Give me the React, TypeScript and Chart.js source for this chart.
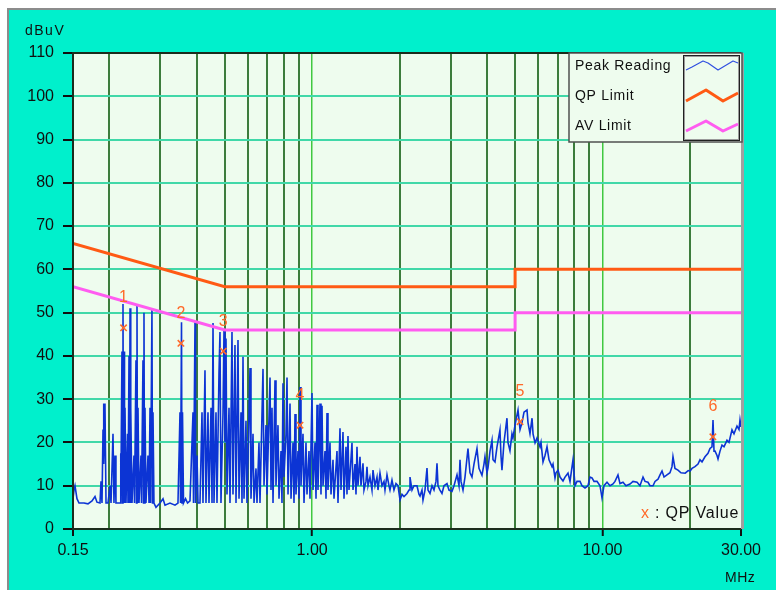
import React, { useEffect, useRef } from "react";
import { Chart, registerables } from "chart.js";

Chart.register(...registerables);

// Peak Reading trace: [frequency MHz, level dBuV]
const peakReading: [number, number][] = [
  [0.15, 7], [0.1512, 9], [0.1524, 10], [0.1548, 7], [0.1573, 6], [0.1637, 6], [0.1689, 5.8],
  [0.1744, 6.5], [0.1786, 7.5], [0.1814, 6.2], [0.1858, 6], [0.1873, 11], [0.1888, 6],
  [0.1903, 23], [0.191, 29], [0.1918, 15], [0.1933, 29], [0.1949, 6], [0.198, 6],
  [0.2012, 10], [0.2028, 6], [0.206, 22], [0.2076, 6], [0.2093, 17], [0.2109, 6], [0.2143, 6],
  [0.2178, 6], [0.2187, 17.5], [0.2195, 6], [0.2212, 41], [0.2221, 6], [0.223, 52], [0.2239, 6],
  [0.2248, 41], [0.2257, 6], [0.2266, 28], [0.2284, 6],
  [0.2311, 22], [0.232, 6], [0.2339, 40], [0.2348, 6], [0.2358, 51], [0.2367, 6], [0.2376, 28], [0.2395, 6],
  [0.2433, 17], [0.2443, 6], [0.2472, 39], [0.2482, 6], [0.2492, 51.7], [0.2502, 6], [0.2512, 28], [0.2532, 6],
  [0.2572, 17], [0.2583, 6], [0.2613, 39], [0.2624, 6], [0.2634, 50], [0.2645, 6], [0.2655, 28], [0.2676, 6],
  [0.2719, 17], [0.2741, 6], [0.2763, 28], [0.2774, 6], [0.2806, 51], [0.2818, 6], [0.2829, 27], [0.2851, 6],
  [0.2897, 5], [0.2991, 6], [0.3063, 7], [0.3112, 5.5], [0.3237, 6], [0.3368, 5.5], [0.3449, 6],
  [0.3505, 27], [0.3519, 6], [0.3547, 47.8], [0.3561, 6], [0.3575, 27], [0.3604, 6], [0.3662, 7],
  [0.3721, 6], [0.3794, 6.5], [0.3886, 27], [0.3901, 6], [0.3948, 48], [0.3963, 6], [0.4011, 17], [0.4043, 6],
  [0.4107, 6], [0.4173, 27], [0.4206, 6], [0.4273, 36.7], [0.4307, 6], [0.4376, 27], [0.4411, 6],
  [0.4482, 28], [0.4518, 6], [0.4554, 47.6], [0.459, 6], [0.4663, 27], [0.47, 6], [0.4775, 36],
  [0.4813, 45.5], [0.4851, 6], [0.493, 27], [0.4969, 46], [0.5008, 20], [0.5048, 44], [0.5088, 8],
  [0.517, 28], [0.5211, 6], [0.5294, 45.5], [0.5336, 8], [0.5421, 42.5], [0.5465, 6], [0.5552, 43.7],
  [0.5597, 7], [0.5686, 27], [0.5731, 6], [0.5777, 39.8], [0.5823, 7], [0.5915, 25], [0.5962, 6],
  [0.6107, 37.2], [0.6155, 7], [0.6254, 22], [0.6304, 6], [0.6404, 14], [0.6455, 6], [0.6558, 20],
  [0.661, 6], [0.677, 37], [0.6824, 10], [0.6933, 24], [0.6988, 8], [0.7157, 35], [0.7214, 9],
  [0.7271, 28], [0.7329, 6], [0.7446, 34.4], [0.7505, 10], [0.7625, 24], [0.7686, 7], [0.7809, 18],
  [0.7871, 6], [0.7934, 33.7], [0.7997, 12], [0.8125, 22], [0.819, 35], [0.8255, 8], [0.8387, 29],
  [0.8454, 7], [0.8589, 20], [0.8657, 6], [0.8726, 26.6], [0.8795, 8], [0.8936, 18], [0.9007, 7],
  [0.9079, 32.8], [0.9151, 10], [0.9297, 22], [0.9371, 6], [0.9521, 20], [0.9597, 8], [0.975, 18],
  [0.9828, 7], [0.9986, 31.4], [1.0065, 9], [1.0226, 20], [1.0308, 7], [1.039, 28.7], [1.0472, 9],
  [1.064, 29], [1.0724, 8], [1.081, 28.5], [1.0896, 10], [1.107, 18], [1.1158, 7], [1.1247, 26.8],
  [1.1336, 9], [1.1518, 20], [1.161, 8], [1.1795, 16], [1.1889, 7], [1.2175, 18], [1.2272, 6],
  [1.2468, 23.3], [1.2568, 9], [1.2768, 22.4], [1.287, 7], [1.3076, 19], [1.318, 8], [1.3285, 21.5],
  [1.3391, 9], [1.3713, 19.9], [1.3822, 9], [1.4043, 15], [1.4155, 8], [1.4268, 19], [1.4381, 10],
  [1.4611, 16.7], [1.4727, 10], [1.4962, 15.2], [1.5081, 9], [1.5323, 11], [1.5445, 14.4], [1.5568, 10],
  [1.5817, 12], [1.607, 9], [1.6198, 13.6], [1.6457, 10], [1.6721, 12], [1.6854, 9], [1.7122, 12.9],
  [1.7396, 10], [1.7674, 11], [1.7815, 9], [1.8099, 12.5], [1.8389, 10], [1.8535, 9], [1.8831, 11.3],
  [1.9132, 9], [1.9438, 10.5], [1.9749, 10], [2.0068, 6.7], [2.0389, 8], [2.0715, 7.5], [2.1214, 8.2],
  [2.1554, 9], [2.1724, 12], [2.2072, 9], [2.2424, 10], [2.2964, 10], [2.3332, 8], [2.3518, 7.6],
  [2.3892, 9], [2.4082, 6.7], [2.4468, 9], [2.486, 14.1], [2.5058, 9], [2.5458, 8.2], [2.5866, 10],
  [2.6278, 9], [2.6698, 11], [2.6911, 15.2], [2.7125, 10], [2.7558, 9], [2.7998, 8.2], [2.8444, 10],
  [2.9132, 10.5], [2.9597, 9], [3.0312, 8.7], [3.0798, 10], [3.1539, 12.5], [3.2043, 10], [3.2299, 16],
  [3.2556, 11], [3.3076, 9], [3.3604, 12], [3.4409, 18.6], [3.4958, 13], [3.5518, 12], [3.6085, 15],
  [3.6954, 18.6], [3.7545, 14], [3.8448, 12.4], [3.9062, 15], [3.9374, 16.7], [4.0001, 13], [4.0331, 14.1],
  [4.0976, 18], [4.1631, 20.5], [4.1963, 16], [4.2632, 15.5], [4.3314, 19], [4.4345, 22.9], [4.4698, 17],
  [4.5055, 13.6], [4.5775, 20], [4.6876, 25.6], [4.725, 20], [4.8004, 18.1], [4.8771, 22], [4.916, 21],
  [4.9964, 24], [5.1168, 27.5], [5.1991, 23], [5.2819, 24.6], [5.3661, 27], [5.4949, 27.5], [5.5387, 24.6],
  [5.6272, 22], [5.7187, 25.6], [5.7642, 22], [5.8571, 19.9], [5.949, 21], [6.092, 19], [6.1404, 20],
  [6.2387, 15.5], [6.3384, 17], [6.4401, 19], [6.5429, 16], [6.7002, 14.4], [6.7536, 15], [6.8615, 11.8],
  [6.9162, 13], [7.0272, 13.6], [7.1395, 12], [7.3109, 11.1], [7.4284, 12], [7.6069, 12.9], [7.7282, 11],
  [7.915, 16], [8.0413, 10], [8.1699, 11], [8.3666, 11], [8.5, 10], [8.7055, 9.5], [8.9148, 10],
  [9.0574, 12], [9.2023, 11.8], [9.3496, 11], [9.574, 11], [9.8043, 10], [9.9614, 7.2], [10.121, 10],
  [10.365, 10.8], [10.614, 10], [10.87, 10.4], [11.044, 11], [11.307, 12.5], [11.488, 10.5], [11.765, 10.8],
  [12.05, 10], [12.438, 10.4], [12.739, 11], [13.152, 10.8], [13.464, 10], [13.79, 12], [14.011, 11],
  [14.345, 10.8], [14.577, 10], [14.93, 10], [15.169, 11], [15.531, 11.5], [15.781, 12.5], [16.034, 13.4],
  [16.292, 12], [16.678, 12.5], [17.08, 13], [17.354, 14.4], [17.492, 16.7], [17.771, 14], [18.198, 13.6],
  [18.635, 13], [19.271, 12.9], [19.735, 13.5], [20.021, 13.4], [20.34, 14], [20.824, 14.4], [21.332, 15],
  [21.673, 16], [22.019, 15.5], [22.547, 16.7], [23.092, 17.5], [23.462, 18.6], [23.838, 19], [24.027, 25.2],
  [24.219, 18], [24.412, 18], [24.802, 17], [25.0, 16.2], [25.398, 18], [25.804, 19.4], [26.216, 19],
  [26.846, 20.5], [27.275, 20], [27.932, 22.9], [28.378, 22], [29.062, 23.8], [29.527, 23], [29.763, 25.2],
  [30.0, 23.6],
];

const qpLimitFreq = [0.15, 0.5, 5, 5, 30];
const qpLimitLevel = [66, 56, 56, 60, 60];
const avLimitFreq = [0.15, 0.5, 5, 5, 30];
const avLimitLevel = [56, 46, 46, 50, 50];

const qpMarkFreq = [0.224, 0.353, 0.494, 0.908, 5.2, 24.0];
const qpMarkLevel = [46.5, 42.9, 41.1, 24.0, 24.8, 21.3];
const qpMarkLabels = ["1", "2", "3", "4", "5", "6"];

const xGridValues = [0.15, 0.2, 0.3, 0.4, 0.5, 0.6, 0.7, 0.8, 0.9, 1, 2, 3, 4, 5, 6, 7, 8, 9, 10, 20, 30];
const xLabelValues = [0.15, 1, 10, 30];
const yMin = 0;
const yMax = 110;
const yStep = 10;

const legendNames = ["Peak Reading", "QP Limit", "AV Limit"];
const yUnit = "dBuV";
const xUnit = "MHz";
const qpNote = ": QP Value";

const TEAL = "#00f0cc";
const PLOT_BG = "#eefcee";
const HGRID = "#40d8a8";
const VGRID = "#3c7c3c";
const VGRID_DEC = "#40c840";
const PEAK = "#0c34d4";
const QP = "#ff5a14";
const AV = "#ff5cf0";
const MARK = "#ff6a2a";
const FONT = "'Liberation Sans', Arial, sans-serif";

const decorPlugin = {
  id: "decor",
  beforeDraw(chart: any) {
    const { ctx, width, height, chartArea: a } = chart;
    ctx.save();
    ctx.fillStyle = "#ffffff";
    ctx.fillRect(0, 0, width, height);
    ctx.fillStyle = "#8c8c8c";
    ctx.fillRect(7, 8, width - 7, height - 8);
    ctx.fillStyle = TEAL;
    ctx.fillRect(9, 10, width - 9, height - 10);
    ctx.fillStyle = PLOT_BG;
    ctx.fillRect(a.left, a.top, a.right - a.left, a.bottom - a.top);
    ctx.restore();
  },
  afterDraw(chart: any) {
    const { ctx, chartArea: a, scales } = chart;
    ctx.save();
    // plot frame
    ctx.lineWidth = 2;
    ctx.strokeStyle = "#1c2c1c";
    ctx.beginPath();
    ctx.moveTo(a.right, a.top);
    ctx.lineTo(a.left, a.top);
    ctx.lineTo(a.left, a.bottom);
    ctx.lineTo(a.right, a.bottom);
    ctx.stroke();
    ctx.strokeStyle = "#a0a0a0";
    ctx.lineWidth = 3;
    ctx.beginPath();
    ctx.moveTo(a.right + 1.5, a.top);
    ctx.lineTo(a.right + 1.5, a.bottom);
    ctx.stroke();

    // marker numbers
    ctx.font = `16px ${FONT}`;
    ctx.fillStyle = MARK;
    ctx.textAlign = "center";
    ctx.textBaseline = "middle";
    qpMarkLabels.forEach((lab, i) => {
      const x = scales.x.getPixelForValue(qpMarkFreq[i]);
      const y = scales.y.getPixelForValue(qpMarkLevel[i]);
      ctx.fillText(lab, x, y - 30);
    });

    // legend box
    const lx = 569, ly = a.top, lw = a.right + 1 - 569, lh = 89;
    ctx.fillStyle = PLOT_BG;
    ctx.fillRect(lx, ly, lw, lh);
    ctx.strokeStyle = "#505050";
    ctx.lineWidth = 1.5;
    ctx.strokeRect(lx, ly, lw, lh);
    ctx.fillStyle = "#101010";
    ctx.font = `14px ${FONT}`;
    ctx.textAlign = "left";
    ctx.textBaseline = "middle";
    try { (ctx as any).letterSpacing = "0.7px"; } catch (e) {}
    const rows = [66, 96.5, 126];
    legendNames.forEach((n, i) => ctx.fillText(n, 575, rows[i]));
    try { (ctx as any).letterSpacing = "0px"; } catch (e) {}
    // sample box
    ctx.strokeStyle = "#202020";
    ctx.lineWidth = 1;
    ctx.strokeRect(683.5, 55.5, 56, 85);
    ctx.strokeStyle = "#9a9a9a";
    ctx.strokeRect(684.5, 56.5, 54, 83);
    const zig = (pts: number[][], color: string, w: number) => {
      ctx.strokeStyle = color;
      ctx.lineWidth = w;
      ctx.lineJoin = "round";
      ctx.beginPath();
      pts.forEach((p, k) => (k ? ctx.lineTo(p[0], p[1]) : ctx.moveTo(p[0], p[1])));
      ctx.stroke();
    };
    zig([[686, 70], [692, 67], [703, 61], [708, 63], [718, 70], [728, 64], [733, 61], [738, 63]], "#3050e0", 1.2);
    zig([[686, 101], [706, 90], [723, 101], [738, 93]], QP, 3);
    zig([[686, 131], [706, 121], [723, 131], [738, 124]], AV, 3);

    // QP note
    ctx.font = `16px ${FONT}`;
    ctx.fillStyle = MARK;
    ctx.fillText("x", 641, 514);
    ctx.fillStyle = "#101010";
    try { (ctx as any).letterSpacing = "0.8px"; } catch (e) {}
    ctx.fillText(qpNote, 655, 514);

    // units
    ctx.font = `14px ${FONT}`;
    try { (ctx as any).letterSpacing = "1.5px"; } catch (e) {}
    ctx.fillText(yUnit, 25, 31);
    try { (ctx as any).letterSpacing = "0.5px"; } catch (e) {}
    ctx.fillText(xUnit, 725, 578);
    ctx.restore();
  },
};

export default function App() {
  const ref = useRef<HTMLCanvasElement | null>(null);

  useEffect(() => {
    document.body.style.margin = "0";
    document.body.style.overflow = "hidden";
    const canvas = ref.current;
    if (!canvas) return;
    const chart = new Chart(canvas, {
      type: "line",
      data: {
        datasets: [
          {
            label: "QP Value",
            data: qpMarkFreq.map((f, i) => ({ x: f, y: qpMarkLevel[i] })),
            showLine: false,
            pointStyle: "crossRot",
            pointRadius: 4.5,
            pointBorderWidth: 1.6,
            pointBorderColor: MARK,
            borderColor: MARK,
            order: 0,
          },
          {
            label: "QP Limit",
            data: qpLimitFreq.map((f, i) => ({ x: f, y: qpLimitLevel[i] })),
            borderColor: QP,
            borderWidth: 3,
            pointRadius: 0,
            tension: 0,
            order: 1,
          },
          {
            label: "AV Limit",
            data: avLimitFreq.map((f, i) => ({ x: f, y: avLimitLevel[i] })),
            borderColor: AV,
            borderWidth: 3,
            pointRadius: 0,
            tension: 0,
            order: 2,
          },
          {
            label: "Peak Reading",
            data: peakReading.map(([f, v]) => ({ x: f, y: v })),
            borderColor: PEAK,
            borderWidth: 1.6,
            pointRadius: 0,
            tension: 0,
            order: 3,
          },
        ],
      },
      options: {
        animation: false,
        responsive: false,
        maintainAspectRatio: false,
        events: [],
        layout: { padding: { left: 8, right: 35, top: 53, bottom: 20 } },
        plugins: { legend: { display: false }, tooltip: { enabled: false }, title: { display: false } },
        scales: {
          x: {
            type: "logarithmic",
            min: 0.15,
            max: 30,
            afterBuildTicks: (s: any) => {
              s.ticks = xGridValues.map((v) => ({ value: v }));
            },
            afterFit: (s: any) => {
              s.height = 41;
            },
            border: { display: false },
            grid: {
              lineWidth: (c: any) => (c.tick && (c.tick.value === 1 || c.tick.value === 10) ? 1.5 : 2),
              color: (c: any) => {
                const v = c.tick ? c.tick.value : 0;
                if (v === 0.15 || v === 30) return "rgba(0,0,0,0)";
                if (v === 1 || v === 10) return VGRID_DEC;
                return VGRID;
              },
              tickColor: (c: any) => (c.tick && xLabelValues.includes(c.tick.value) ? "#101010" : "rgba(0,0,0,0)"),
              tickLength: 7,
              tickWidth: 2,
            },
            ticks: {
              autoSkip: false,
              maxRotation: 0,
              padding: 5,
              color: "#101010",
              font: { family: FONT, size: 16 },
              callback: (v: any) => (xLabelValues.includes(Number(v)) ? Number(v).toFixed(2) : ""),
            },
          },
          y: {
            type: "linear",
            min: yMin,
            max: yMax,
            afterFit: (s: any) => {
              s.width = 65;
            },
            border: { display: false },
            grid: {
              lineWidth: 2,
              color: (c: any) => {
                const v = c.tick ? c.tick.value : 0;
                if (v === yMin || v === yMax) return "rgba(0,0,0,0)";
                return HGRID;
              },
              tickColor: "#101010",
              tickLength: 10,
              tickWidth: 2,
            },
            ticks: {
              stepSize: yStep,
              padding: 9,
              color: "#101010",
              font: { family: FONT, size: 16 },
            },
          },
        },
      } as any,
      plugins: [decorPlugin],
    });
    return () => chart.destroy();
  }, []);

  return (
    <div style={{ width: 776, height: 590, overflow: "hidden" }}>
      <canvas ref={ref} width={776} height={590} style={{ display: "block" }} />
    </div>
  );
}
